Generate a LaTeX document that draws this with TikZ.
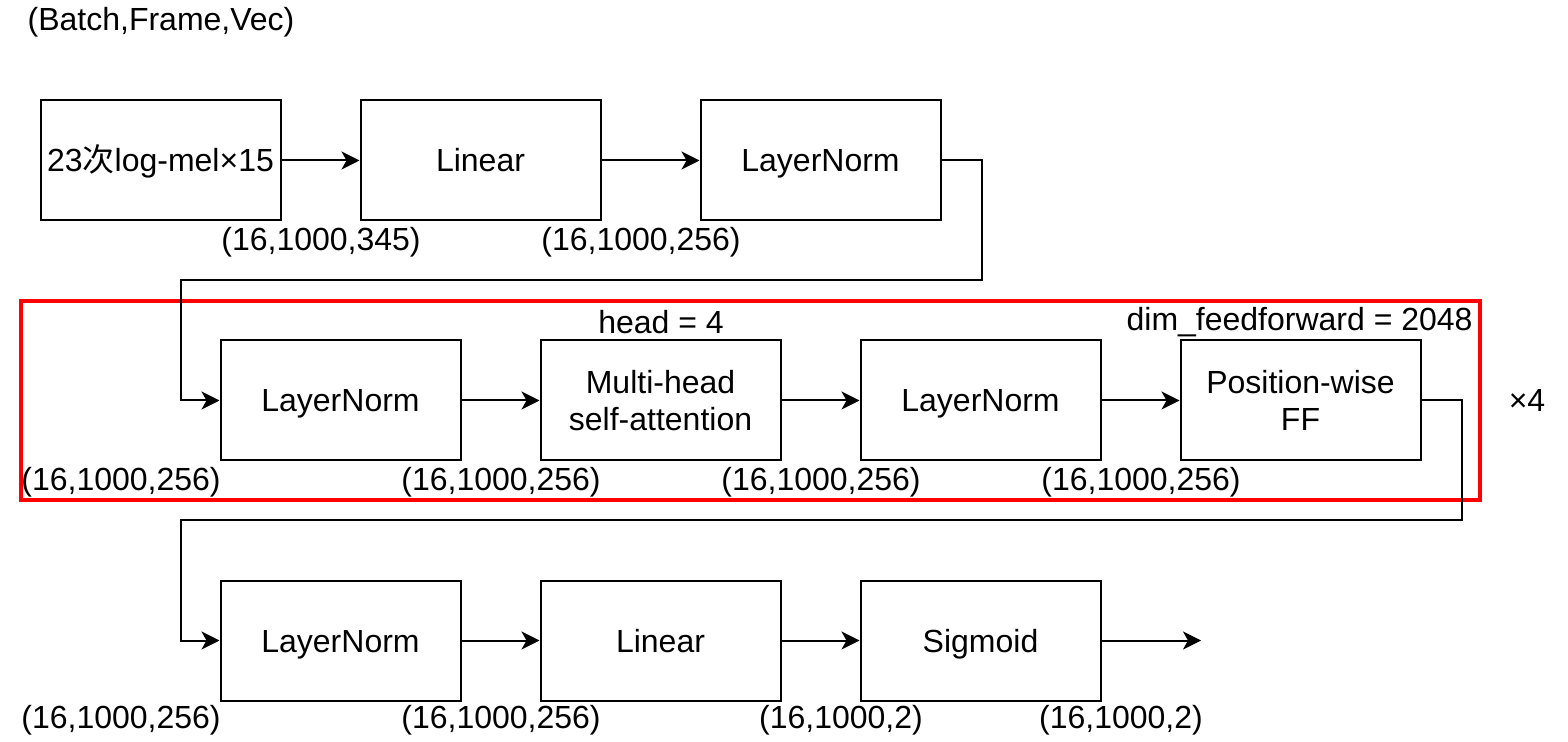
\documentclass[tikz,border=0pt]{standalone}
\usepackage{fontspec}
\setmainfont{Liberation Sans}
\newfontfamily\cjk{Noto Sans CJK SC}
\usetikzlibrary{arrows.meta}
\begin{document}
\begin{tikzpicture}[x=0.5pt,y=-0.5pt,
  font=\fontsize{16}{18.8}\selectfont,
  blk/.style={draw=black,line width=1pt,minimum width=120pt,minimum height=60pt,inner sep=0pt,align=center,fill=white},
  one/.style={text height=11.5pt,text depth=0pt},
  lbl/.style={inner sep=0pt,anchor=center},
  arr/.style={line width=1pt,-{Stealth[length=9pt,width=9pt,inset=2.5pt]}},
  ln/.style={line width=1pt}]
\useasboundingbox (0,0) rectangle (1568,742);
\node[lbl] (title) at (161,22) {(Batch,Frame,Vec)};
% row 1
\node[blk,one] (in) at (160.5,160.5) {23{\cjk 次}log-mel×15};
\node[blk,one] (lin1) at (480.5,160.5) {Linear};
\node[blk,one] (ln1) at (820.5,160.5) {LayerNorm};
\node[lbl] (s1) at (321,242) {(16,1000,345)};
\node[lbl] (s2) at (641,242) {(16,1000,256)};
% encoder block
\node[draw=red,line width=2pt,minimum width=729.5pt,minimum height=99.5pt,inner sep=0pt] (enc) at (750.5,400.5) {};
\node[blk,one] (ln2) at (340.5,400.5) {LayerNorm};
\node[blk] (mha) at (660.5,400.5) {Multi-head\\self-attention};
\node[blk,one] (ln3) at (980.5,400.5) {LayerNorm};
\node[blk] (ff) at (1300.5,400.5) {Position-wise\\FF};
\node[lbl] (head) at (661,322) {head = 4};
\node[lbl,anchor=east] (dff) at (1473,322) {dim\_feedforward = 2048};
\node[lbl] (times) at (1527,400) {×4};
\node[lbl] (s3) at (121,482) {(16,1000,256)};
\node[lbl] (s4) at (501,482) {(16,1000,256)};
\node[lbl] (s5) at (821,482) {(16,1000,256)};
\node[lbl] (s6) at (1141,482) {(16,1000,256)};
% row 3
\node[blk,one] (ln4) at (340.5,640.5) {LayerNorm};
\node[blk,one] (lin2) at (660.5,640.5) {Linear};
\node[blk,one] (sig) at (980.5,640.5) {Sigmoid};
\coordinate (out) at (1201,640.5);
\node[lbl] (s7) at (121,720) {(16,1000,256)};
\node[lbl] (s8) at (501,720) {(16,1000,256)};
\node[lbl] (s9) at (841,720) {(16,1000,2)};
\node[lbl] (s10) at (1121,720) {(16,1000,2)};
% connectors
\draw[arr] (in) -- (lin1);
\draw[arr] (lin1) -- (ln1);
\draw[arr] (ln1.east) -- ++(40,0) |- (580,280.5) -| (181,400.5) -- (ln2.west);
\draw[arr] (ln2) -- (mha);
\draw[arr] (mha) -- (ln3);
\draw[arr] (ln3) -- (ff);
\draw[arr] (ff.east) -- ++(40,0) |- (800,520.5) -| (181,640.5) -- (ln4.west);
\draw[arr] (ln4) -- (lin2);
\draw[arr] (lin2) -- (sig);
\draw[arr] (sig) -- (out);
\end{tikzpicture}
\end{document}
